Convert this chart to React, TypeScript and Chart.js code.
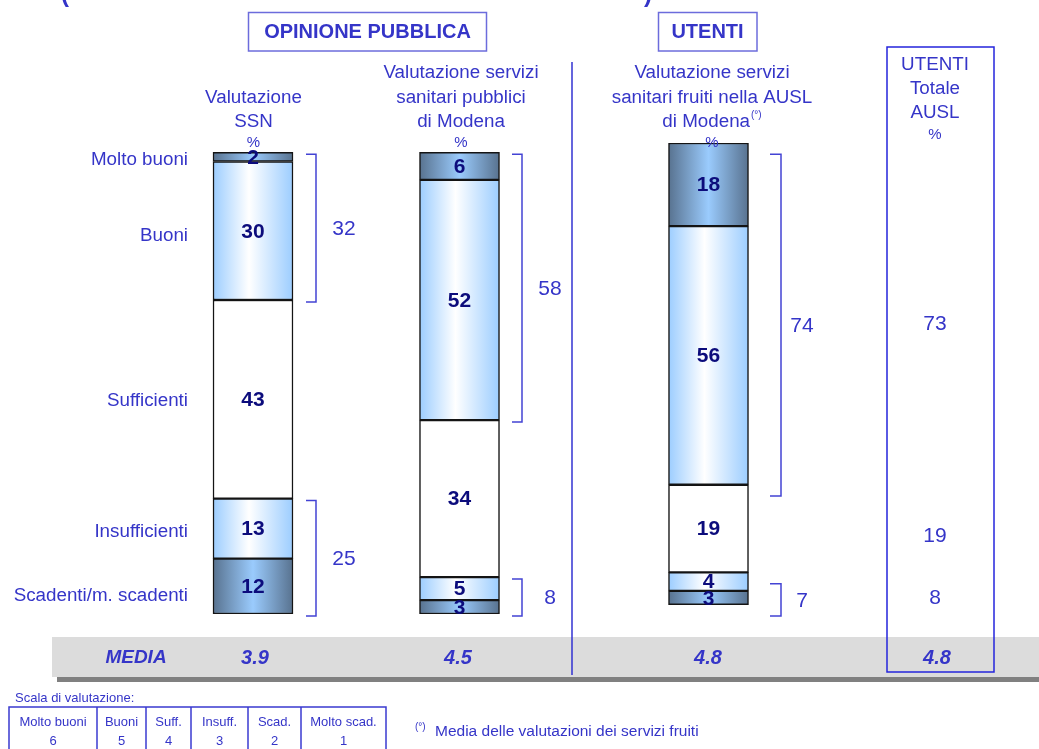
import { useEffect, useRef } from 'react';
import { Chart, registerables } from 'chart.js';

Chart.register(...registerables);

// ---------- DATA ----------
const categories = ['Molto buoni', 'Buoni', 'Sufficienti', 'Insufficienti', 'Scadenti/m. scadenti'];
const columnTitles = [
  ['Valutazione', 'SSN'],
  ['Valutazione servizi', 'sanitari pubblici', 'di Modena'],
  ['Valutazione servizi', 'sanitari fruiti nella AUSL', 'di Modena'],
];
const ssnValues = [2, 30, 43, 13, 12];
const pubbliciValues = [6, 52, 34, 5, 3];
const fruitiValues = [18, 56, 19, 4, 3];
const positiveTotals = [32, 58, 74];
const negativeTotals = [25, 8, 7];
const utentiTitle = ['UTENTI', 'Totale', 'AUSL'];
const utentiTotals = [73, 19, 8];
const mediaLabel = 'MEDIA';
const mediaValues = ['3.9', '4.5', '4.8', '4.8'];
const scaleTitle = 'Scala di valutazione:';
const scaleLabels = ['Molto buoni', 'Buoni', 'Suff.', 'Insuff.', 'Scad.', 'Molto scad.'];
const scaleScores = ['6', '5', '4', '3', '2', '1'];
const footnote = 'Media delle valutazioni dei servizi fruiti';
const groupTitles = ['OPINIONE PUBBLICA', 'UTENTI'];

// ---------- LAYOUT / STYLE ----------
const W = 1039;
const H = 749;
const FONT = '"Liberation Sans", Arial, Helvetica, sans-serif';
const BLUE = '#3535c8';
const NAVY = '#0c0c7c';
const barX = [253, 459.5, 708.5];
const headerX = [253.5, 461, 712];
const barBase = [0, 0, 2];
const bracketX = [316, 522, 781];
const bracketTick = [10, 10, 11];
const bracketLabelX = [344, 550, 802];
const totalColX = 935;
const mediaX = [255, 458, 708, 937];
const rowLabelY = [160, 236, 401, 532, 596];
const tableCols = [9, 97, 146, 191, 248, 301, 386];
const segKind = ['dark', 'light', 'white', 'light', 'dark'];

const seriesByColumn = [ssnValues, pubbliciValues, fruitiValues];

function makeFill(kind: string) {
  if (kind === 'white') return '#ffffff';
  return (ctx: any) => {
    const chart = ctx.chart;
    const xs = chart.scales && chart.scales.x;
    const fallback = kind === 'dark' ? '#7fa3c8' : '#cfe6ff';
    if (!xs || ctx.type !== 'data' || !ctx.raw) return fallback;
    const cx = xs.getPixelForValue(ctx.raw.x);
    if (!Number.isFinite(cx)) return fallback;
    const g = chart.ctx.createLinearGradient(cx - 40, 0, cx + 40, 0);
    if (kind === 'dark') {
      g.addColorStop(0, '#58728f');
      g.addColorStop(0.5, '#9acbfd');
      g.addColorStop(1, '#58728f');
    } else {
      g.addColorStop(0, '#9ccdff');
      g.addColorStop(0.45, '#ffffff');
      g.addColorStop(1, '#9ccdff');
    }
    return g;
  };
}

function buildDatasets() {
  return categories.map((cat, i) => ({
    label: cat,
    data: seriesByColumn.map((vals, c) => {
      const below = vals.slice(i + 1).reduce((a, b) => a + b, 0);
      const start = barBase[c] + below;
      return { x: barX[c], y: [start, start + vals[i]] };
    }),
    backgroundColor: makeFill(segKind[i]),
    borderColor: '#141414',
    borderWidth: 1.5,
    borderSkipped: false,
    barThickness: 80,
    grouped: false,
  }));
}

const overlayPlugin = {
  id: 'overlay',
  afterDraw(chart: any) {
    const ctx: CanvasRenderingContext2D = chart.ctx;
    const ys = chart.scales.y;
    ctx.save();

    const text = (s: string, x: number, y: number, font: string, color: string, align: CanvasTextAlign = 'center') => {
      ctx.font = font;
      ctx.fillStyle = color;
      ctx.textAlign = align;
      ctx.textBaseline = 'middle';
      ctx.fillText(s, x, y);
    };

    // cut-off title parentheses
    ctx.font = `bold 24px ${FONT}`;
    ctx.fillStyle = BLUE;
    ctx.textAlign = 'left';
    ctx.textBaseline = 'alphabetic';
    ctx.fillText('(', 61, 2);
    ctx.fillText(')', 644, 2);

    // group title boxes
    ctx.strokeStyle = '#6c6cdc';
    ctx.lineWidth = 1.5;
    ctx.strokeRect(248.5, 12.5, 238, 38.5);
    ctx.strokeRect(658.5, 12.5, 98.5, 38.5);
    text(groupTitles[0], 367.5, 32, `bold 20px ${FONT}`, BLUE);
    text(groupTitles[1], 707.5, 32, `bold 20px ${FONT}`, BLUE);

    // MEDIA band
    ctx.fillStyle = '#dcdcdc';
    ctx.fillRect(52, 637, W - 52, 40);
    ctx.fillStyle = '#808080';
    ctx.fillRect(57, 677, W - 57, 5);

    // separator line and total column box
    ctx.strokeStyle = '#3232d2';
    ctx.lineWidth = 1.5;
    ctx.beginPath();
    ctx.moveTo(572, 62);
    ctx.lineTo(572, 675);
    ctx.stroke();
    ctx.strokeStyle = '#2424dc';
    ctx.strokeRect(887, 47, 107, 625);

    // column headers
    const lh = 24.5;
    columnTitles.forEach((lines, c) => {
      const n = lines.length;
      lines.forEach((ln, k) => {
        const y = 122 - lh * (n - 1 - k);
        if (c === 2 && k === n - 1) {
          ctx.font = `18.8px ${FONT}`;
          const w1 = ctx.measureText(ln).width;
          ctx.font = `10px ${FONT}`;
          const w2 = ctx.measureText('(°)').width;
          const x0 = headerX[c] - (w1 + w2 + 1) / 2;
          text(ln, x0, y, `18.8px ${FONT}`, BLUE, 'left');
          text('(°)', x0 + w1 + 1, y - 7, `10px ${FONT}`, BLUE, 'left');
        } else {
          text(ln, headerX[c], y, `18.8px ${FONT}`, BLUE);
        }
      });
      text('%', headerX[c], 143, `15px ${FONT}`, BLUE);
    });

    // total column header
    utentiTitle.forEach((ln, k) => text(ln, totalColX, 65 + 24 * k, `18.8px ${FONT}`, BLUE));
    text('%', totalColX, 135, `15px ${FONT}`, BLUE);

    // row labels
    categories.forEach((cat, i) => text(cat, 188, rowLabelY[i], `18.8px ${FONT}`, BLUE, 'right'));

    // bar value labels
    categories.forEach((_, i) => {
      const meta = chart.getDatasetMeta(i);
      meta.data.forEach((el: any, c: number) => {
        const p = el.getProps(['x', 'y', 'base'], true);
        text(String(seriesByColumn[c][i]), p.x, (p.y + p.base) / 2 + 1, `bold 21px ${FONT}`, NAVY);
      });
    });

    // brackets
    ctx.strokeStyle = '#4343d4';
    ctx.lineWidth = 1.5;
    const bracket = (c: number, vTop: number, vBot: number, label: number) => {
      const yT = ys.getPixelForValue(vTop) + 2;
      const yB = ys.getPixelForValue(vBot) + 2;
      const bx = bracketX[c];
      ctx.beginPath();
      ctx.moveTo(bx - bracketTick[c], yT);
      ctx.lineTo(bx, yT);
      ctx.lineTo(bx, yB);
      ctx.lineTo(bx - bracketTick[c], yB);
      ctx.stroke();
      text(String(label), bracketLabelX[c], (yT + yB) / 2 + 1, `21px ${FONT}`, BLUE);
    };
    positiveTotals.forEach((t, c) => bracket(c, 100, 100 - t, t));
    negativeTotals.forEach((t, c) => bracket(c, t, 0, t));

    // total column values
    let top = 100;
    utentiTotals.forEach((v) => {
      const bot = Math.max(0, top - v);
      const y = ys.getPixelForValue((top + bot) / 2) + 3;
      text(String(v), totalColX, y, `21px ${FONT}`, BLUE);
      top = bot;
    });

    // MEDIA row
    text(mediaLabel, 136, 658, `italic bold 19px ${FONT}`, BLUE);
    mediaValues.forEach((v, k) => text(v, mediaX[k], 658, `italic bold 20px ${FONT}`, BLUE));

    // scale table
    text(scaleTitle, 15, 698, `13px ${FONT}`, BLUE, 'left');
    ctx.strokeStyle = '#3a3ad0';
    ctx.lineWidth = 1.5;
    ctx.strokeRect(tableCols[0], 707, tableCols[tableCols.length - 1] - tableCols[0], 60);
    for (let k = 1; k < tableCols.length - 1; k++) {
      ctx.beginPath();
      ctx.moveTo(tableCols[k], 707);
      ctx.lineTo(tableCols[k], H);
      ctx.stroke();
    }
    scaleLabels.forEach((lab, k) => {
      const cx = (tableCols[k] + tableCols[k + 1]) / 2;
      text(lab, cx, 722, `13px ${FONT}`, BLUE);
      text(scaleScores[k], cx, 741, `13px ${FONT}`, BLUE);
    });

    // footnote
    text('(°)', 415, 727, `10px ${FONT}`, BLUE, 'left');
    text(footnote, 435, 732, `15.5px ${FONT}`, BLUE, 'left');

    ctx.restore();
  },
};

export default function App() {
  const ref = useRef<HTMLCanvasElement | null>(null);
  useEffect(() => {
    if (!ref.current) return;
    const chart = new Chart(ref.current, {
      type: 'bar',
      data: { datasets: buildDatasets() as any },
      options: {
        responsive: false,
        animation: false,
        events: [],
        layout: { padding: { top: 143, bottom: H - 614, left: 0, right: 0 } },
        plugins: { legend: { display: false }, tooltip: { enabled: false } },
        scales: {
          x: { type: 'linear', min: 0, max: W, offset: false, display: false, grid: { offset: false } },
          y: { type: 'linear', min: 0, max: 102, display: false },
        },
      } as any,
      plugins: [overlayPlugin],
    });
    return () => chart.destroy();
  }, []);
  return (
    <div style={{ position: 'absolute', left: 0, top: 0, width: W, height: H, background: '#fff' }}>
      <canvas ref={ref} width={W} height={H} style={{ display: 'block' }} />
    </div>
  );
}
